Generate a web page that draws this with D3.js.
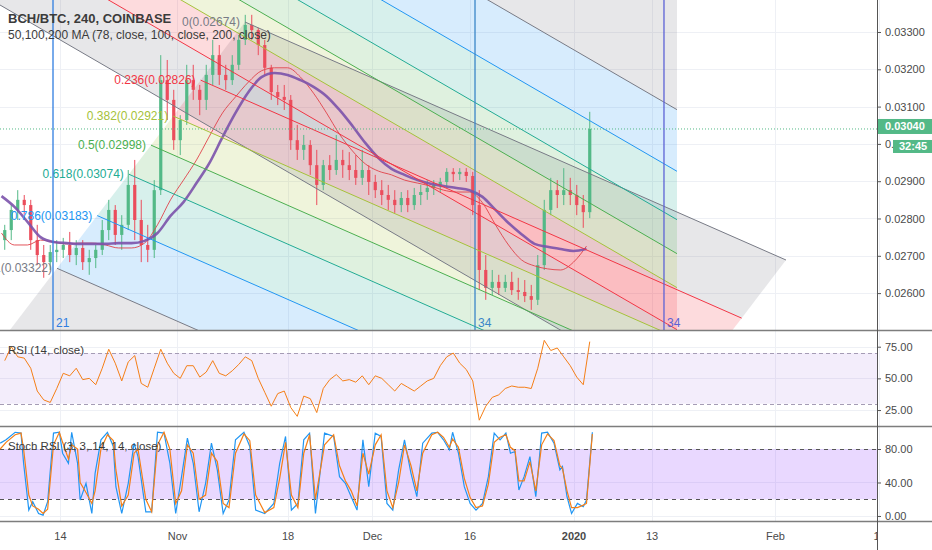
<!DOCTYPE html>
<html>
<head>
<meta charset="utf-8">
<title>BCH/BTC 240 COINBASE</title>
<script src="https://cdn.jsdelivr.net/npm/d3@7"></script>
<style>
  body { margin: 0; background: #fff; }
  svg { display: block; font-family: "Liberation Sans", Arial, sans-serif; }
</style>
</head>
<body>
<svg id="chart" width="932" height="550"></svg>
<script>
// ---- data (prices in 1e-5 BTC) ----
const candleStart = "2019-10-05";
const openP = [
  2742,2769,2823,2850,2836,2742,2702,2683,2710,2716,2729,2702,2721,2683,2694,2716,2769,2823,2756,2783,2890,2796,2729,2716,2876,3171,3118,
  3010,3064,3171,3145,3118,3185,3238,3185,3171,3212,3279,3319,3305,3265,3204,3139,3126,3118,3010,2984,2997,2943,2890,2943,2930,2957,2943,2930,2909,2930,
  2898,2876,2863,2850,2836,2855,2836,2863,2871,2882,2890,2898,2925,2919,2925,2914,2836,2662,2614,2630,2614,2630,2608,2603,2592,2582,2675,2823,2876,2863,2876,
  2863,2836,2817];
const highP = [
  2783,2836,2876,2863,2850,2783,2729,2729,2742,2748,2764,2742,2742,2716,2729,2796,2850,2836,2809,2930,2957,2850,2783,2903,3238,3225,3145,
  3077,3212,3212,3158,3212,3279,3265,3212,3238,3292,3346,3346,3311,3279,3212,3158,3158,3131,3051,3024,3010,2984,2957,2970,3024,2984,2978,2970,2984,2943,
  2917,2903,2890,2876,2871,2876,2882,2890,2903,2903,2909,2935,2935,2935,2935,2925,2876,2702,2662,2649,2649,2657,2641,2635,2622,2702,2850,2909,2903,2935,2909,
  2890,2863,3086];
const lowP = [
  2716,2742,2796,2809,2716,2675,2641,2662,2683,2694,2683,2675,2662,2649,2667,2702,2742,2729,2716,2769,2742,2683,2683,2694,2863,3064,2984,
  2970,3051,3118,3077,3091,3158,3158,3145,3158,3198,3265,3279,3238,3185,3118,3104,3091,2984,2957,2957,2917,2836,2876,2903,2917,2909,2903,2890,2890,2863,
  2855,2836,2823,2815,2817,2817,2823,2836,2850,2863,2871,2882,2898,2903,2898,2809,2608,2582,2595,2595,2603,2595,2582,2576,2555,2568,2662,2809,2828,2836,2836,
  2809,2775,2801];
const closeP = [
  2769,2823,2850,2836,2742,2702,2683,2710,2716,2729,2702,2721,2683,2694,2716,2769,2823,2756,2783,2890,2796,2729,2716,2876,3171,3118,3010,
  3064,3171,3145,3118,3185,3238,3185,3171,3212,3279,3319,3305,3265,3204,3139,3126,3118,3010,2984,2997,2943,2890,2943,2930,2957,2943,2930,2909,2930,2898,
  2876,2863,2850,2836,2855,2836,2863,2871,2882,2890,2898,2925,2919,2925,2914,2836,2662,2614,2630,2614,2630,2608,2603,2592,2582,2675,2823,2876,2863,2876,2863,
  2836,2817,3040];

// moving averages, one value every 2 days from maStart
const maStart = "2019-10-05";
const ma78 = [
  2761,2729,2729,2742,2737,2732,2734,2734,2729,2721,2721,2734,2783,2850,
  2903,2957,3021,3083,3126,3166,3196,3204,3204,3179,3136,3083,3026,2981,2946,
  2927,2917,2903,2895,2887,2876,2871,2871,2842,2783,2729,2689,2673,2665,2662,
  2683,2726];
const ma100 = [
  2860,2831,2791,2750,2737,2734,2732,2732,2732,2734,2734,2740,2761,2807,
  2844,2895,2949,3018,3083,3139,3179,3190,3185,3171,3153,3128,3091,3048,3002,
  2962,2933,2917,2903,2893,2887,2882,2876,2858,2823,2788,2758,2732,2724,2718,
  2713,2718];

// RSI, one value per candle
const rsi = [
  64,75,67,66,58,40,33,31,42,54,52,58,49,50,45,58,73,62,48,63,68,46,43,58,73,62,54,
  50,60,60,51,55,64,54,52,56,61,67,64,50,39,28,38,40,27,20,36,34,23,42,49,53,48,49,47,52,45,
  52,50,45,40,46,43,40,44,48,50,60,67,70,62,57,48,17,28,35,37,42,44,43,43,42,58,80,72,74,67,60,
  51,45,79];

// Stoch RSI, day offsets from candleStart
const stochDays = [-0.2,0.7,2.1,3.0,3.4,4.2,4.8,5.7,6.4,7.1,8.0,8.9,9.4,10.3,10.8,11.7,12.1,13.0,13.9,14.4,
  15.3,16.3,17.2,17.6,18.5,19.5,20.4,21.0,22.2,23.1,24.0,25.0,25.9,26.8,27.7,28.6,29.5,30.4,31.4,32.3,
  33.2,34.1,35.0,36.0,37.3,38.2,39.1,40.5,41.9,42.8,43.7,44.6,45.6,46.5,47.4,48.3,49.7,51.1,52.0,52.9,
  53.8,54.7,55.6,56.5,57.5,58.4,59.3,60.2,61.1,62.0,63.0,63.9,64.8,66.2,67.1,68.0,68.9,69.4,70.3,71.2,
  72.1,73.0,74.0,74.9,75.8,76.7,77.6,78.3,79.0,79.6,80.4,81.3,82.2,83.1,84.0,85.0,85.9,86.3,87.0,87.7,
  88.6,89.5,90.0,90.9];
const stochK = [87,91,100,99,63,7,17,3,1,17,99,100,75,63,100,63,19,39,3,51,
  91,100,83,35,3,39,87,71,5,5,100,99,63,3,47,93,63,5,39,87,
  55,3,19,91,100,83,7,3,15,63,95,7,15,91,99,3,99,95,47,39,
  23,7,91,35,99,95,15,7,55,91,51,23,87,99,100,91,79,100,75,35,
  15,7,15,47,99,91,99,75,77,31,47,71,23,99,100,87,55,59,23,3,
  15,11,19,100];
const stochD = [80,88,97,99,80,25,12,8,3,8,85,100,88,68,85,80,40,28,15,30,
  80,97,90,55,12,25,75,80,20,5,85,100,80,15,30,85,75,20,25,75,
  65,15,10,75,98,90,25,4,10,45,88,25,10,75,97,20,85,97,60,42,
  30,12,75,50,85,97,30,10,40,85,60,30,75,97,100,94,82,92,82,45,
  22,10,12,38,88,94,97,82,78,42,42,65,30,85,98,90,60,57,30,10,
  10,13,15,98];

// axes
const priceTicks = [0.026, 0.027, 0.028, 0.029, 0.030, 0.031, 0.032, 0.033];
const rsiTicks = [25, 50, 75];
const stochTicks = [0, 40, 80];
const timeTicks = ["2019-10-14","2019-11-01","2019-11-18","2019-12-01","2019-12-16","2020-01-01","2020-01-13","2020-02-01","2020-02-17"];
const timeLabels = ["14","Nov","18","Dec","16","2020","13","Feb","17"];
const lastPrice = 0.03040;
const countdown = "32:45";

// fib channels
const fibLevels = [0, 0.236, 0.382, 0.5, 0.618, 0.786, 1, 1.618];
const fibColors = ["#787b86","#f23645","#a5c23a","#4caf50","#22ab94","#2196f3","#787b86","#787b86"];
const fibALabels = ["0(0.02674)","0.236(0.02826)","0.382(0.02921)","0.5(0.02998)","0.618(0.03074)","0.786(0.03183)","1(0.03322)"];
const fibAStart = "2019-11-11T11:05Z", fibAEnd = "2020-02-02T16:36Z";
const fibAStartPrice = 0.033268, fibAEndPrice = 0.026887;
const fibADepth = 0.00882, fibAShiftDays = 28.92;
const fibBStart = "2019-09-28T00:00Z", fibBEnd = "2020-01-16T22:05Z";
const fibBStartPrice = 0.034408, fibBEndPrice = 0.023197;
const fibBDepth = 0.007721;

// fib time zone lines
const zoneDates = ["2019-10-12T22:10Z","2019-12-16T20:20Z","2020-01-14T22:05Z"];
const zoneLabels = ["21","34","34"];
const zoneColors = ["#2f7de1","#3a86c8","#5c62d6"];

// ---- layout ----
const W = 932, axisX = 877;
const mainBottom = 330, rsiTop = 331, rsiBottom = 426, stTop = 427, stBottom = 521;
const DAY = 864e5;
const unit = 1e-5;

const svg = d3.select("#chart");

const x = d3.scaleUtc()
  .domain([new Date("2019-10-04T18:28Z"), new Date("2020-02-16T16:36Z")])
  .range([0, axisX]);
const y = d3.scaleLinear().domain([0.0250107, 0.0338579]).range([mainBottom, 0]);
const yR = d3.scaleLinear().domain([12.4, 87.4]).range([rsiBottom, rsiTop]);
const yS = d3.scaleLinear().domain([-6, 106.3]).range([stBottom, stTop]);

const t0 = Date.parse(candleStart + "T00:00:00Z");
const candles = closeP.map((c, i) => ({
  t: new Date(t0 + (i + 0.5) * DAY),
  o: openP[i] * unit, h: highP[i] * unit, l: lowP[i] * unit, c: c * unit
}));
const m0 = Date.parse(maStart + "T00:00:00Z");
const maPts = (arr) => arr.map((v, i) => ({ t: new Date(m0 + i * 2 * DAY), v: v * unit }));

const defs = svg.append("defs");
defs.append("clipPath").attr("id", "clipMain").append("rect")
  .attr("x", 0).attr("y", 0).attr("width", axisX).attr("height", mainBottom);
defs.append("clipPath").attr("id", "clipRsi").append("rect")
  .attr("x", 0).attr("y", rsiTop).attr("width", axisX).attr("height", rsiBottom - rsiTop);
defs.append("clipPath").attr("id", "clipSt").append("rect")
  .attr("x", 0).attr("y", stTop).attr("width", axisX).attr("height", stBottom - stTop);
defs.append("clipPath").attr("id", "clipTime").append("rect")
  .attr("x", 0).attr("y", stBottom).attr("width", axisX).attr("height", 30);

// ---- grid ----
const grid = svg.append("g").attr("stroke", "#eef0f5").attr("stroke-width", 1);
timeTicks.forEach(d => {
  const gx = Math.round(x(new Date(d + "T00:00:00Z"))) + 0.5;
  grid.append("line").attr("x1", gx).attr("x2", gx).attr("y1", 0).attr("y2", stBottom);
});
priceTicks.forEach(p => {
  const gy = Math.round(y(p)) + 0.5;
  grid.append("line").attr("x1", 0).attr("x2", axisX).attr("y1", gy).attr("y2", gy);
});
rsiTicks.forEach(v => {
  const gy = Math.round(yR(v)) + 0.5;
  grid.append("line").attr("x1", 0).attr("x2", axisX).attr("y1", gy).attr("y2", gy);
});
stochTicks.forEach(v => {
  const gy = Math.round(yS(v)) + 0.5;
  grid.append("line").attr("x1", 0).attr("x2", axisX).attr("y1", gy).attr("y2", gy);
});

// ---- main pane ----
const main = svg.append("g").attr("clip-path", "url(#clipMain)");

// fib channel A (slanted edges)
const aS = Date.parse(fibAStart), aE = Date.parse(fibAEnd);
const aLine = (t) => fibAStartPrice + (fibAEndPrice - fibAStartPrice) * (t - aS) / (aE - aS);
const aPt = (lv, which) => {
  const t = (which === 0 ? aS : aE) - lv * fibAShiftDays * DAY;
  return [x(new Date(t)), y(aLine(t) - lv * fibADepth)];
};
// fib channel B (vertical edges)
const bS = Date.parse(fibBStart), bE = Date.parse(fibBEnd);
const bPt = (lv, which) => {
  const t = which === 0 ? bS : bE;
  const p = (which === 0 ? fibBStartPrice : fibBEndPrice) + lv * fibBDepth;
  return [x(new Date(t)), y(p)];
};

const fills = main.append("g");
[aPt, bPt].forEach(pt => {
  for (let i = 0; i < fibLevels.length - 1; i++) {
    const a = fibLevels[i], b = fibLevels[i + 1];
    const poly = [pt(a, 0), pt(a, 1), pt(b, 1), pt(b, 0)];
    fills.append("path")
      .attr("d", "M" + poly.join("L") + "Z")
      .attr("fill", fibColors[i]).attr("fill-opacity", 0.18);
  }
});

// candles
const bw = 3.2;
const cg = main.append("g");
cg.selectAll("line").data(candles).join("line")
  .attr("x1", d => x(d.t)).attr("x2", d => x(d.t))
  .attr("y1", d => y(d.h)).attr("y2", d => y(d.l))
  .attr("stroke", d => d.c >= d.o ? "#53b987" : "#eb4d5c").attr("stroke-width", 1);
cg.selectAll("rect").data(candles).join("rect")
  .attr("x", d => x(d.t) - bw / 2).attr("width", bw)
  .attr("y", d => y(Math.max(d.o, d.c)))
  .attr("height", d => Math.max(1, Math.abs(y(d.o) - y(d.c))))
  .attr("fill", d => d.c >= d.o ? "#53b987" : "#eb4d5c");

// moving averages
const maLine = d3.line().x(d => x(d.t)).y(d => y(d.v)).curve(d3.curveMonotoneX);
main.append("path").attr("d", maLine(maPts(ma78)))
  .attr("fill", "none").attr("stroke", "#e0434a").attr("stroke-width", 1).attr("stroke-opacity", 0.9);
main.append("path").attr("d", maLine(maPts(ma100)))
  .attr("fill", "none").attr("stroke", "#7b52ab").attr("stroke-width", 2.6).attr("stroke-opacity", 0.9);

// fib lines
const fibLinesG = main.append("g").attr("stroke-width", 1);
fibLevels.slice(0, 7).forEach((lv, i) => {
  [aPt, bPt].forEach(pt => {
    const p0 = pt(lv, 0), p1 = pt(lv, 1);
    fibLinesG.append("line")
      .attr("x1", p0[0]).attr("y1", p0[1]).attr("x2", p1[0]).attr("y2", p1[1])
      .attr("stroke", fibColors[i]);
  });
});
fibALabels.forEach((txt, i) => {
  const p0 = aPt(fibLevels[i], 0);
  main.append("text")
    .attr("x", p0[0] - 5).attr("y", p0[1]).attr("dy", "0.35em")
    .attr("text-anchor", "end").attr("font-size", 12)
    .attr("fill", fibColors[i]).text(txt);
});

// time zone lines
zoneDates.forEach((d, i) => {
  const zx = x(new Date(d));
  main.append("line").attr("x1", zx).attr("x2", zx).attr("y1", 0).attr("y2", mainBottom)
    .attr("stroke", zoneColors[i]).attr("stroke-width", 1.3);
  main.append("text").attr("x", zx + 3).attr("y", mainBottom - 3)
    .attr("font-size", 12).attr("fill", zoneColors[i]).text(zoneLabels[i]);
});

// last price line
main.append("line")
  .attr("x1", 0).attr("x2", axisX).attr("y1", y(lastPrice)).attr("y2", y(lastPrice))
  .attr("stroke", "#53b987").attr("stroke-width", 1).attr("stroke-dasharray", "1,2");

// legends
svg.append("text").attr("x", 8).attr("y", 23).attr("font-size", 13).attr("font-weight", "bold")
  .attr("fill", "#3b3b3b").text("BCH/BTC, 240, COINBASE");
svg.append("text").attr("x", 8).attr("y", 39).attr("font-size", 12)
  .attr("fill", "#3b3b3b").text("50,100,200 MA (78, close, 100, close, 200, close)");

// ---- RSI pane ----
const rp = svg.append("g").attr("clip-path", "url(#clipRsi)");
rp.append("rect").attr("x", 0).attr("width", axisX)
  .attr("y", yR(70)).attr("height", yR(30) - yR(70)).attr("fill", "#9c6ade").attr("fill-opacity", 0.12);
[70, 30].forEach(v => rp.append("line").attr("x1", 0).attr("x2", axisX)
  .attr("y1", Math.round(yR(v)) + 0.5).attr("y2", Math.round(yR(v)) + 0.5)
  .attr("stroke", "#a59cb5").attr("stroke-dasharray", "4,3"));
const rsiLine = d3.line().x((d, i) => x(new Date(t0 + (i + 0.5) * DAY))).y(d => yR(d));
rp.append("path").attr("d", rsiLine(rsi)).attr("fill", "none")
  .attr("stroke", "#f57f17").attr("stroke-width", 1);
svg.append("text").attr("x", 8).attr("y", 354).attr("font-size", 11.5)
  .attr("fill", "#3b3b3b").text("RSI (14, close)");

// ---- Stoch RSI pane ----
const sp = svg.append("g").attr("clip-path", "url(#clipSt)");
sp.append("rect").attr("x", 0).attr("width", axisX)
  .attr("y", yS(80)).attr("height", yS(20) - yS(80)).attr("fill", "#9c4dff").attr("fill-opacity", 0.22);
[80, 20].forEach(v => sp.append("line").attr("x1", 0).attr("x2", axisX)
  .attr("y1", Math.round(yS(v)) + 0.5).attr("y2", Math.round(yS(v)) + 0.5)
  .attr("stroke", "#555").attr("stroke-dasharray", "4,4"));
const stLine = (vals) => d3.line()
  .x((d, i) => x(new Date(t0 + stochDays[i] * DAY))).y(d => yS(d))(vals);
sp.append("path").attr("d", stLine(stochK)).attr("fill", "none")
  .attr("stroke", "#2196f3").attr("stroke-width", 1.2);
sp.append("path").attr("d", stLine(stochD)).attr("fill", "none")
  .attr("stroke", "#f57f17").attr("stroke-width", 1.2);
svg.append("text").attr("x", 8).attr("y", 450).attr("font-size", 11.5)
  .attr("fill", "#3b3b3b").text("Stoch RSI (3, 3, 14, 14, close)");

// ---- separators & axes ----
const sep = svg.append("g").attr("stroke", "#7d7d7d").attr("stroke-width", 1.3);
[mainBottom + 0.5, rsiBottom + 0.5, stBottom + 0.5].forEach(sy =>
  sep.append("line").attr("x1", 0).attr("x2", W).attr("y1", sy).attr("y2", sy));
svg.append("line").attr("x1", axisX + 0.5).attr("x2", axisX + 0.5).attr("y1", 0).attr("y2", 550)
  .attr("stroke", "#555").attr("stroke-width", 1);

function styleAxis(g) {
  g.select(".domain").remove();
  g.selectAll(".tick line").attr("stroke", "#555");
  g.selectAll(".tick text").attr("fill", "#4a4a4a").attr("font-size", 11)
    .attr("font-family", "Liberation Sans, Arial, sans-serif");
}
svg.append("g").attr("transform", `translate(${axisX},0)`)
  .call(d3.axisRight(y).tickValues(priceTicks).tickFormat(d3.format(".5f")).tickSize(4).tickPadding(4))
  .call(styleAxis);
svg.append("g").attr("transform", `translate(${axisX},0)`)
  .call(d3.axisRight(yR).tickValues(rsiTicks).tickFormat(d3.format(".2f")).tickSize(4).tickPadding(4))
  .call(styleAxis);
svg.append("g").attr("transform", `translate(${axisX},0)`)
  .call(d3.axisRight(yS).tickValues(stochTicks).tickFormat(d3.format(".2f")).tickSize(4).tickPadding(4))
  .call(styleAxis);

const tAxis = svg.append("g").attr("clip-path", "url(#clipTime)")
  .append("g").attr("transform", `translate(0,${stBottom})`)
  .call(d3.axisBottom(x).tickValues(timeTicks.map(d => new Date(d + "T00:00:00Z")))
    .tickFormat((d, i) => timeLabels[i]).tickSize(0).tickPadding(11))
  .call(styleAxis);
tAxis.selectAll(".tick text").filter((d, i) => timeLabels[i] === "2020").attr("font-weight", "bold");

// price label + countdown
const lp = y(lastPrice);
svg.append("rect").attr("x", axisX + 1).attr("y", lp - 10).attr("width", W - axisX - 1).attr("height", 15)
  .attr("fill", "#53b987");
svg.append("text").attr("x", axisX + 8).attr("y", lp - 2.5).attr("dy", "0.35em")
  .attr("font-size", 11).attr("font-weight", "bold").attr("fill", "#fff").text(d3.format(".5f")(lastPrice));
svg.append("rect").attr("x", 893).attr("y", lp + 11).attr("width", W - 893).attr("height", 13)
  .attr("fill", "#53b987");
svg.append("text").attr("x", 899).attr("y", lp + 17.5).attr("dy", "0.35em")
  .attr("font-size", 11).attr("font-weight", "bold").attr("fill", "#fff").text(countdown);
</script>
</body>
</html>
